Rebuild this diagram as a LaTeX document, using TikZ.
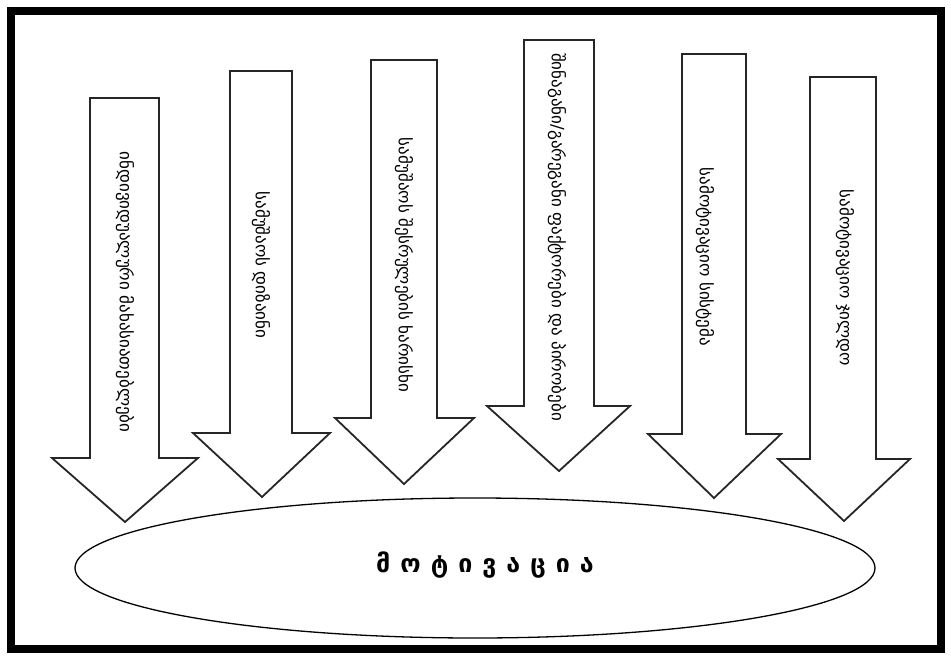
\documentclass[tikz,border=0pt]{standalone}
\usepackage{fontspec}
\setmainfont{DejaVu Sans}
\usetikzlibrary{shapes.geometric}
\begin{document}
\begin{tikzpicture}[x=1pt,y=-1pt,
  arrowshape/.style={draw=black!85,line width=1.8pt,fill=white,line join=miter},
  coltext/.style={font=\fontsize{17}{19}\selectfont,rotate=-90,inner sep=0pt},
  frame/.style={draw=black,line width=8pt}]
\useasboundingbox (0,0) rectangle (951,659);
\draw[frame] (11,11) rectangle (941,649);
% ellipse
\node[draw=black,line width=1.3pt,ellipse,minimum width=800pt,minimum height=140pt,inner sep=0pt] (motiv) at (475,568) {};
\node[font=\fontsize{25}{28}\selectfont\bfseries] (mtext) at (485,565) {მ\hspace{10pt}ო\hspace{10pt}ტ\hspace{10pt}ი\hspace{10pt}ვ\hspace{10pt}ა\hspace{10pt}ც\hspace{10pt}ი\hspace{10pt}ა};
% arrows: shaft left, shaft right, top, head base y, head left, head right, tip
\newcommand{\blockarrow}[8]{%
  \draw[arrowshape] (#1,#3) -- (#2,#3) -- (#2,#4) -- (#6,#4) -- (#7,#8) -- (#5,#4) -- (#1,#4) -- cycle;}
\blockarrow{90}{159}{98}{458}{52}{198}{125}{522}
\blockarrow{230}{292}{71}{433}{193}{330}{262}{497}
\blockarrow{371}{437}{60}{418}{335}{474}{404}{484}
\blockarrow{524}{594}{40}{406}{487}{630}{559}{471}
\blockarrow{682}{746}{54}{434}{648}{781}{714}{498}
\blockarrow{810}{876}{77}{459}{778}{910}{844}{521}
\node[coltext] (t1) at (125,292) {ინდივიდუალური მახასიათებლები};
\node[coltext] (t2) at (261,265) {სამუშაოს დიზაინი};
\node[coltext] (t3) at (404,265) {სამუშაოს შესრულების ხარისხი};
\node[coltext] (t4) at (557,237) {შინაგანი/გარეგანი ფაქტორები და პირობები};
\node[coltext] (t5) at (705,257) {სამოტივაციო სისტემა};
\node[coltext] (t6) at (845,278) {სამოტივაციო ჯილდო};
\end{tikzpicture}
\end{document}
